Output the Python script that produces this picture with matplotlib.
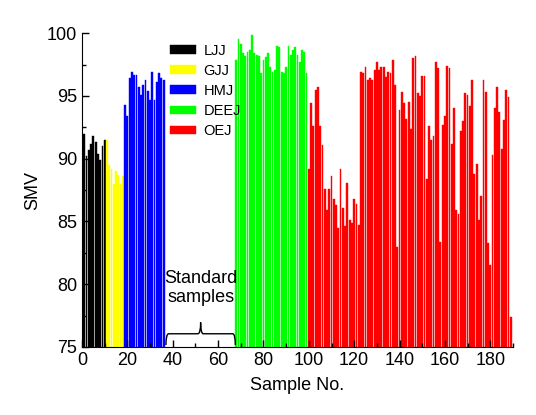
import numpy as np
import matplotlib.pyplot as plt
from matplotlib.path import Path
from matplotlib.patches import PathPatch
from matplotlib.ticker import MultipleLocator

plt.rcParams['font.family'] = ['Liberation Sans', 'DejaVu Sans']

# SMV values per group
ljj = [92.0, 90.2, 90.7, 91.2, 91.8, 91.3, 90.4, 89.9, 91.0, 91.5]
gjj = [91.5, 89.5, 89.2, 88.0, 89.0, 88.7, 88.0, 88.6]
hmj = [94.3, 93.4, 96.4, 96.9, 96.7, 96.7, 95.7, 95.1, 95.9, 96.3,
       95.4, 94.7, 96.9, 94.7, 96.1, 96.8, 96.4, 96.3]
deej = [97.9, 99.5, 99.1, 98.4, 98.2, 98.5, 98.7, 99.85, 98.4, 98.3,
        98.2, 96.8, 97.9, 98.1, 98.4, 97.3, 96.9, 97.1, 99.0, 98.9,
        96.9, 96.8, 97.3, 99.0, 98.3, 98.7, 98.9, 98.3, 97.7, 98.7,
        98.5, 96.8]
oej = [89.2, 94.4, 92.6, 95.5, 95.7, 92.6, 91.1, 87.6, 85.9, 87.6,
       88.6, 86.8, 86.3, 84.5, 89.2, 86.1, 84.6, 88.1, 85.1, 84.9,
       86.8, 86.4, 84.7, 96.9, 96.8, 97.3, 96.3, 96.4, 96.3, 97.1,
       97.7, 97.1, 97.3, 97.3, 96.5, 96.9, 96.8, 97.9, 95.9, 83.0,
       93.9, 95.3, 94.4, 93.2, 94.5, 92.4, 98.0, 98.2, 95.2, 95.0,
       96.6, 96.6, 88.4, 92.6, 91.5, 91.8, 97.7, 97.2, 83.4, 92.7,
       93.4, 97.4, 97.2, 91.2, 94.0, 85.9, 85.6, 92.2, 93.0, 95.2,
       95.1, 94.2, 96.3, 88.8, 89.6, 85.1, 87.0, 96.3, 95.3, 83.3,
       81.5, 90.3, 94.0, 95.7, 93.7, 90.8, 93.1, 95.5, 94.9, 77.4]

groups = ['LJJ', 'GJJ', 'HMJ', 'DEEJ', 'OEJ']
values = [ljj, gjj, hmj, deej, oej]
starts = [1, 11, 19, 68, 100]   # first sample number of each group
colors = ['#000000', '#ffff00', '#0000ff', '#00ff00', '#ff0000']

fig = plt.figure(figsize=(5.36, 4.15), dpi=100)
ax = fig.add_axes([0.153, 0.164, 0.804, 0.756])

for name, vals, s, c in zip(groups, values, starts, colors):
    x = np.arange(s, s + len(vals))
    ax.bar(x, np.array(vals) - 75, bottom=75, width=0.8, color=c,
           edgecolor=c, linewidth=0.3, label=name)

ax.set_xlim(0, 190)
ax.set_ylim(75, 100)
ax.xaxis.set_major_locator(MultipleLocator(20))
ax.xaxis.set_minor_locator(MultipleLocator(10))
ax.yaxis.set_major_locator(MultipleLocator(5))
ax.yaxis.set_minor_locator(MultipleLocator(2.5))
ax.tick_params(which='both', direction='in', labelsize=13, width=1)
ax.tick_params(which='major', length=5)
ax.tick_params(which='minor', length=3)
ax.spines['top'].set_visible(False)
ax.spines['right'].set_visible(False)
ax.set_xlabel('Sample No.', fontsize=13, labelpad=6)
ax.set_ylabel('SMV', fontsize=13, labelpad=4)

# curly brace for the standard samples
x0, x1, xm = 37, 67.6, 52.3
yb, yl, yt = 75.15, 76.05, 76.95
verts = [(x0, yb), (x0, yl), (x0 + 1.2, yl),
         (xm - 1.2, yl), (xm, yl), (xm, yt),
         (xm, yl), (xm + 1.2, yl),
         (x1 - 1.2, yl), (x1, yl), (x1, yb)]
codes = [Path.MOVETO, Path.CURVE3, Path.CURVE3,
         Path.LINETO, Path.CURVE3, Path.CURVE3,
         Path.CURVE3, Path.CURVE3,
         Path.LINETO, Path.CURVE3, Path.CURVE3]
ax.add_patch(PathPatch(Path(verts, codes), fill=False, lw=1, color='black'))
ax.text(xm, 79.7, 'Standard\nsamples', ha='center', va='center',
        fontsize=13, linespacing=1.2)

ax.legend(loc='upper left', bbox_to_anchor=(0.19, 0.985), frameon=False,
          fontsize=10.5, handlelength=1.8, handleheight=0.55,
          labelspacing=0.42, handletextpad=0.5, borderaxespad=0)

fig.savefig('out.png', dpi=100)
